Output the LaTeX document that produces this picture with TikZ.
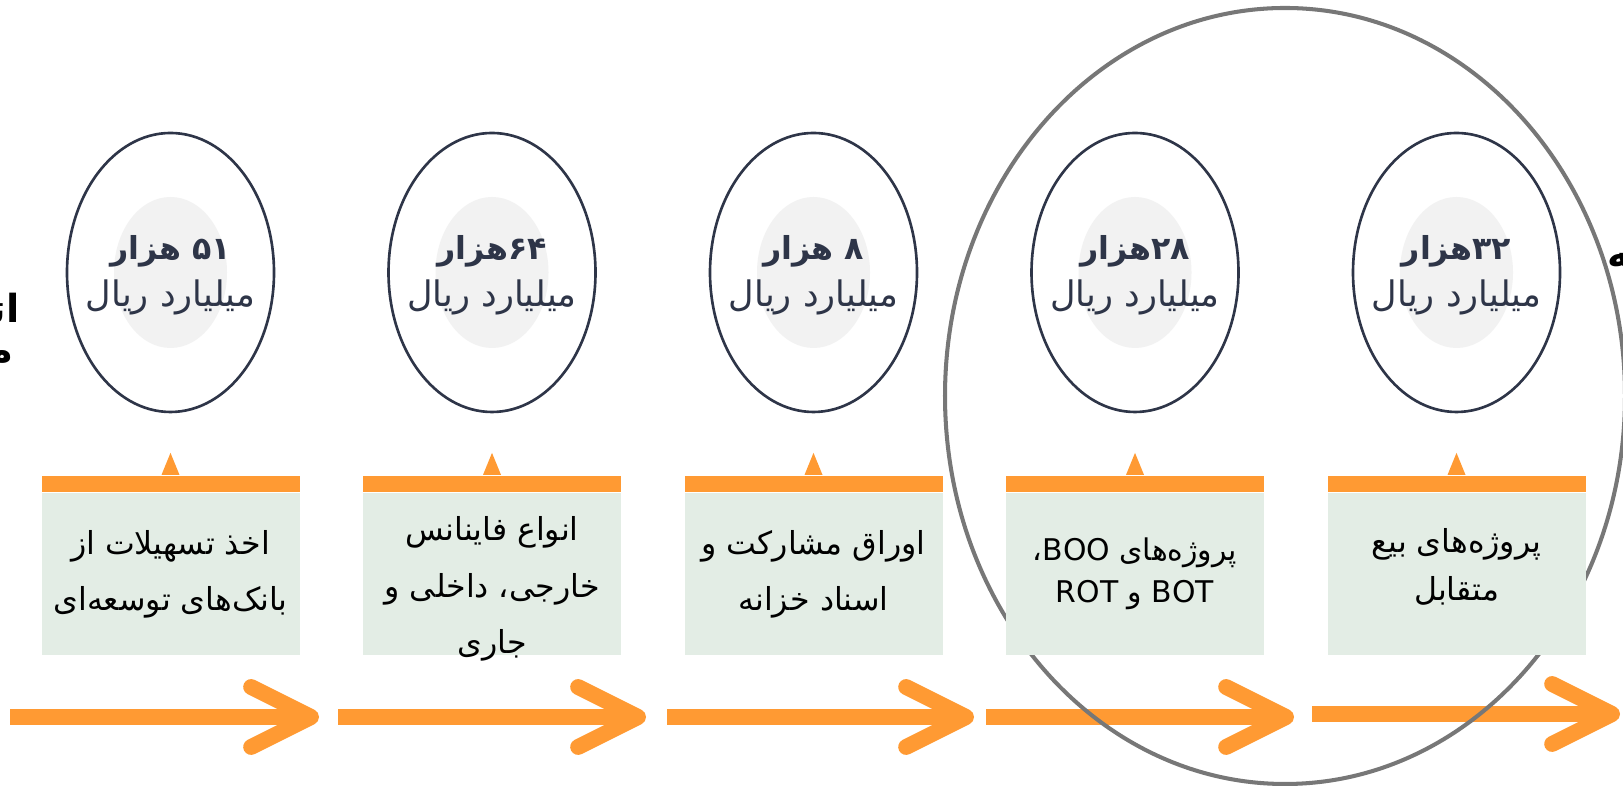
\documentclass[tikz,border=0pt]{standalone}
\usepackage{fontspec}
\usetikzlibrary{shapes.geometric,calc,arrows.meta,positioning}
\TeXXeTstate=1
\newfontfamily\arabicfont[Script=Arabic]{DejaVu Sans}
\newcommand{\rline}[1]{\beginR #1\endR}
\newcommand{\lword}[1]{\beginL #1\endL{}}
\definecolor{navy}{HTML}{2E3548}
\definecolor{coregray}{HTML}{F2F2F2}
\definecolor{barorange}{HTML}{FF9A33}
\definecolor{cardgreen}{HTML}{E3EDE5}
\definecolor{ringgray}{HTML}{777777}
\tikzset{
	outer/.style={ellipse,draw=navy,line width=0.75pt,fill=white,minimum width=2.07cm,minimum height=2.79cm,inner sep=0},
	core/.style={ellipse,fill=coregray,minimum width=1.13cm,minimum height=1.51cm,inner sep=0},
	amount/.style={text=navy,align=center,yshift=-0.03cm,font=\arabicfont\fontsize{10}{13.5}\selectfont},
	card/.style={rectangle,fill=cardgreen,minimum width=2.58cm,minimum height=1.62cm,inner sep=0},
	cardbar/.style={rectangle,fill=barorange,minimum width=2.58cm,minimum height=0.16cm,inner sep=0},
	cardtext/.style={text=black,align=center,font=\arabicfont\fontsize{9}{16}\selectfont},
	flow/.style={draw=barorange,line width=4.5pt,-{Straight Barb[round,length=6mm,width=6mm]}},
	ring/.style={ellipse,draw=ringgray,line width=1.15pt,minimum width=6.8cm,minimum height=7.76cm,inner sep=0},
	cuttext/.style={text=black,font=\arabicfont\bfseries\fontsize{11}{13}\selectfont,inner sep=0}
}
\begin{document}
\begin{tikzpicture}
	\def\x{3.215} % cards and ellipses are \x apart
	\useasboundingbox (0,0) rectangle (16.23,7.86);

	% arrows along the bottom
	\coordinate (A1) at (0.10,0.69);
	\coordinate (Z1) at (3.19,0.69);
	\coordinate (A2) at (3.38,0.69);
	\coordinate (Z2) at (6.46,0.69);
	\coordinate (A3) at (6.67,0.69);
	\coordinate (Z3) at (9.74,0.69);
	\coordinate (A4) at (9.86,0.69);
	\coordinate (Z4) at (12.94,0.69);
	\coordinate (A5) at (13.12,0.72);
	\coordinate (Z5) at (16.20,0.72);
	\draw[flow] (A1) -- (Z1);
	\draw[flow] (A2) -- (Z2);
	\draw[flow] (A3) -- (Z3);
	\draw[flow] (A4) -- (Z4);
	\draw[flow] (A5) -- (Z5);

	% big ring round the last two
	\node[ring] (R) at (12.85,3.90) {};

	% cards
	\node[card] (S1) at (1.705,2.12) {};
	\node[card] (S2) at ($ (S1) + \x*(1,0)$) {};
	\node[card] (S3) at ($ (S2) + \x*(1,0)$) {};
	\node[card] (S4) at ($ (S3) + \x*(1,0)$) {};
	\node[card] (S5) at ($ (S4) + \x*(1,0)$) {};

	\node[cardbar,anchor=south] (H1) at (S1.north) {};
	\node[cardbar,anchor=south] (H2) at (S2.north) {};
	\node[cardbar,anchor=south] (H3) at (S3.north) {};
	\node[cardbar,anchor=south] (H4) at (S4.north) {};
	\node[cardbar,anchor=south] (H5) at (S5.north) {};
	\fill[barorange] ($(H1.north)+(-0.09,0)$) -- ($(H1.north)+(0.09,0)$) -- ($(H1.north)+(0,0.22)$) -- cycle;
	\fill[barorange] ($(H2.north)+(-0.09,0)$) -- ($(H2.north)+(0.09,0)$) -- ($(H2.north)+(0,0.22)$) -- cycle;
	\fill[barorange] ($(H3.north)+(-0.09,0)$) -- ($(H3.north)+(0.09,0)$) -- ($(H3.north)+(0,0.22)$) -- cycle;
	\fill[barorange] ($(H4.north)+(-0.09,0)$) -- ($(H4.north)+(0.09,0)$) -- ($(H4.north)+(0,0.22)$) -- cycle;
	\fill[barorange] ($(H5.north)+(-0.09,0)$) -- ($(H5.north)+(0.09,0)$) -- ($(H5.north)+(0,0.22)$) -- cycle;

	\node[cardtext] (L1) at (S1) {\rline{اخذ تسهیلات از}\\\rline{بانک‌های توسعه‌ای}};
	\node[cardtext,yshift=-0.15cm] (L2) at (S2) {\rline{انواع فاینانس}\\\rline{خارجی، داخلی و}\\\rline{جاری}};
	\node[cardtext] (L3) at (S3) {\rline{اوراق مشارکت و}\\\rline{اسناد خزانه}};
	\node[cardtext,font=\arabicfont\fontsize{8.5}{12}\selectfont] (L4) at (S4) {\rline{پروژه‌های \lword{BOO}،}\\\rline{\lword{BOT} و \lword{ROT}}};
	\node[cardtext,font=\arabicfont\fontsize{9}{13.5}\selectfont,yshift=0.07cm] (L5) at (S5) {\rline{پروژه‌های بیع}\\\rline{متقابل}};

	% amounts
	\node[outer] (E1) at (1.705,5.135) {};
	\node[outer] (E2) at ($ (E1) + \x*(1,0)$) {};
	\node[outer] (E3) at ($ (E2) + \x*(1,0)$) {};
	\node[outer] (E4) at ($ (E3) + \x*(1,0)$) {};
	\node[outer] (E5) at ($ (E4) + \x*(1,0)$) {};
	\node[core] (C1) at (E1) {};
	\node[core] (C2) at (E2) {};
	\node[core] (C3) at (E3) {};
	\node[core] (C4) at (E4) {};
	\node[core] (C5) at (E5) {};
	\node[amount] (T1) at (E1) {\rline{{\bfseries\fontsize{9}{13.5}\selectfont ۵۱ هزار}}\\\rline{میلیارد ریال}};
	\node[amount] (T2) at (E2) {\rline{{\bfseries\fontsize{9}{13.5}\selectfont ۶۴هزار}}\\\rline{میلیارد ریال}};
	\node[amount] (T3) at (E3) {\rline{{\bfseries\fontsize{9}{13.5}\selectfont ۸ هزار}}\\\rline{میلیارد ریال}};
	\node[amount] (T4) at (E4) {\rline{{\bfseries\fontsize{9}{13.5}\selectfont ۲۸هزار}}\\\rline{میلیارد ریال}};
	\node[amount] (T5) at (E5) {\rline{{\bfseries\fontsize{9}{13.5}\selectfont ۳۲هزار}}\\\rline{میلیارد ریال}};

	% words cut by the page edges
	\node[cuttext,anchor=east] (F1) at (0.20,4.78) {\rline{اتـــ}};
	\node[cuttext,anchor=east] (F2) at (0.14,4.29) {\rline{مـــ}};
	\node[cuttext,anchor=west] (F3) at (16.07,5.26) {\rline{ـــه}};
\end{tikzpicture}
\end{document}
